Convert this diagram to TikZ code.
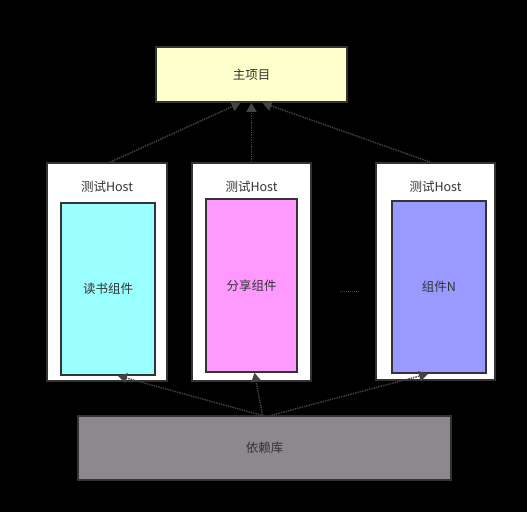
\documentclass[tikz,border=0pt]{standalone}
\usepackage{fontspec}
\setmainfont{Noto Sans CJK SC}
\usetikzlibrary{arrows.meta,calc}
\definecolor{edge}{HTML}{333333}
\definecolor{txt}{HTML}{333333}
\definecolor{mainfill}{HTML}{FFFFCC}
\definecolor{cfill}{HTML}{99FFFF}
\definecolor{pfill}{HTML}{FF99FF}
\definecolor{bfill}{HTML}{9999FF}
\definecolor{libfill}{HTML}{8B898B}
\definecolor{conn}{HTML}{444444}
\begin{document}
\begin{tikzpicture}[x=1pt,y=-1pt,
  box/.style={draw=edge,line width=1.6pt,inner sep=0pt,font=\fontsize{12.5}{14}\selectfont,text=txt},
  hostbox/.style={box,fill=white},
  dep/.style={draw=conn,line width=1.4pt,densely dotted,-{Triangle[width=10pt,length=9pt]}}]
\fill[black] (0,0) rectangle (527,512);
\useasboundingbox (0,0) rectangle (527,512);
% main project
\node[box,fill=mainfill,minimum width=191pt,minimum height=55pt] (m) at (251.5,74.5) {主项目};
% host boxes
\node[hostbox,minimum width=120pt,minimum height=218pt] (h1) at (107,272) {};
\node[hostbox,minimum width=119pt,minimum height=218pt] (h2) at (251.5,272) {};
\node[hostbox,minimum width=119pt,minimum height=217pt] (h3) at (435.5,271.5) {};
\node[font=\fontsize{12.5}{14}\selectfont,text=txt] (t1) at (107,187) {测试Host};
\node[font=\fontsize{12.5}{14}\selectfont,text=txt] (t2) at (251.5,187) {测试Host};
\node[font=\fontsize{12.5}{14}\selectfont,text=txt] (t3) at (435.5,187) {测试Host};
% components
\node[box,fill=cfill,minimum width=94pt,minimum height=172pt] (c1) at (108,289) {读书组件};
\node[box,fill=pfill,minimum width=91pt,minimum height=173pt] (c2) at (251.5,285.5) {分享组件};
\node[box,fill=bfill,minimum width=94pt,minimum height=172pt] (c3) at (439,287) {组件N};
% ellipsis dots
\coordinate (e1) at (340,291);
\coordinate (e2) at (360,291);
\draw[conn,line width=1pt,densely dotted] (e1) -- (e2);
% library
\node[box,fill=libfill,minimum width=373pt,minimum height=64pt] (lib) at (264.5,448) {依赖库};
% connectors to main
\draw[dep] ($(h1.north)+(3,0)$) -- ($(m.south)+(-11,0)$);
\draw[dep] (h2.north) -- (m.south);
\draw[dep] ($(h3.north)+(-5,0)$) -- ($(m.south)+(11,0)$);
% connectors from library
\draw[dep] ($(lib.north)+(-3,0)$) -- ($(c1.south)+(10,0)$);
\draw[dep] ($(lib.north)+(-2,0)$) -- ($(c2.south)+(3,0)$);
\draw[dep] ($(lib.north)+(7,0)$) -- ($(c3.south)+(-11,0)$);
\end{tikzpicture}
\end{document}
